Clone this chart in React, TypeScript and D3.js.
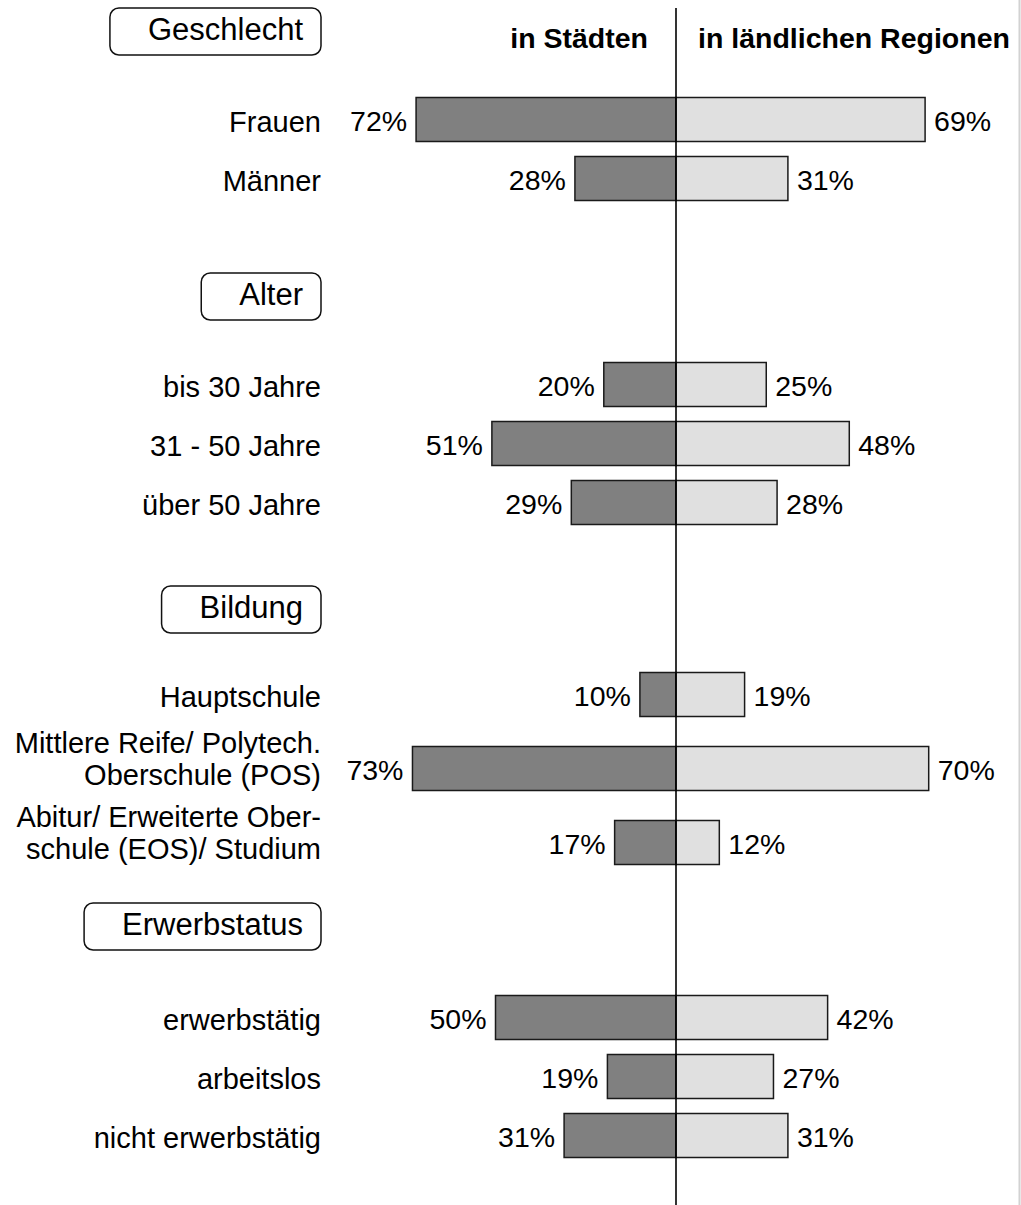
import React, { useEffect, useRef } from "react";
import * as d3 from "d3";

// ---------- data ----------
const groups = ["Geschlecht", "Alter", "Bildung", "Erwerbstatus"];
const categories = [
  "Frauen",
  "Männer",
  "bis 30 Jahre",
  "31 - 50 Jahre",
  "über 50 Jahre",
  "Hauptschule",
  "Mittlere Reife/ Polytech.\nOberschule (POS)",
  "Abitur/ Erweiterte Ober-\nschule (EOS)/ Studium",
  "erwerbstätig",
  "arbeitslos",
  "nicht erwerbstätig",
];
const categoryGroup = [0, 0, 1, 1, 1, 2, 2, 2, 3, 3, 3];
const seriesNames = ["in Städten", "in ländlichen Regionen"];
const staedte = [72, 28, 20, 51, 29, 10, 73, 17, 50, 19, 31];
const laendlich = [69, 31, 25, 48, 28, 19, 70, 12, 42, 27, 31];

// ---------- layout ----------
const W = 1021;
const H = 1205;
const CENTER_X = 676;
const HALF_WIDTH = 361; // pixels for 100 %
const BAR_H = 44;
const FIRST_HEADER_Y = 31.5;
const HEADER_TO_ROW = [88, 88, 85, 91];
const GAP_AFTER_GROUP = [118, 107, 84];
const ROW_STEP = 59;
const ROW_STEP_MULTI = 74;
const LABEL_X = 321;
const BOX_RIGHT = 321;
const FONT = "'Liberation Sans', Arial, Helvetica, sans-serif";

export default function App() {
  const ref = useRef<SVGSVGElement | null>(null);

  useEffect(() => {
    const svg = d3.select(ref.current);
    svg.selectAll("*").remove();

    const xLeft = d3.scaleLinear().domain([0, 100]).range([CENTER_X, CENTER_X - HALF_WIDTH]);
    const xRight = d3.scaleLinear().domain([0, 100]).range([CENTER_X, CENTER_X + HALF_WIDTH]);

    // compute vertical layout
    const headerY: number[] = [];
    const rowY: number[] = new Array(categories.length).fill(0);
    let cursor = FIRST_HEADER_Y;
    groups.forEach((g, gi) => {
      headerY.push(cursor);
      const idx = categoryGroup.map((c, i) => (c === gi ? i : -1)).filter((i) => i >= 0);
      const multi = idx.some((i) => categories[i].includes("\n"));
      const step = multi ? ROW_STEP_MULTI : ROW_STEP;
      let y = cursor + HEADER_TO_ROW[gi];
      idx.forEach((i, k) => {
        rowY[i] = y + k * step;
      });
      const last = rowY[idx[idx.length - 1]];
      if (gi < groups.length - 1) cursor = last + GAP_AFTER_GROUP[gi];
    });

    // right border line
    svg
      .append("line")
      .attr("x1", W - 1.5)
      .attr("x2", W - 1.5)
      .attr("y1", 0)
      .attr("y2", H)
      .attr("stroke", "#d2d2d2")
      .attr("stroke-width", 2);

    // column headers
    svg
      .append("text")
      .attr("x", CENTER_X - 28)
      .attr("y", 48)
      .attr("text-anchor", "end")
      .attr("font-family", FONT)
      .attr("font-weight", "bold")
      .attr("font-size", 28.5)
      .text(seriesNames[0]);
    svg
      .append("text")
      .attr("x", CENTER_X + 22)
      .attr("y", 48)
      .attr("text-anchor", "start")
      .attr("font-family", FONT)
      .attr("font-weight", "bold")
      .attr("font-size", 28.5)
      .text(seriesNames[1]);

    // group header boxes
    groups.forEach((g, gi) => {
      const cy = headerY[gi];
      const gEl = svg.append("g");
      const rect = gEl
        .append("rect")
        .attr("y", cy - 23.5)
        .attr("height", 47)
        .attr("rx", 9)
        .attr("ry", 9)
        .attr("fill", "#fff")
        .attr("stroke", "#111")
        .attr("stroke-width", 1.5);
      const t = gEl
        .append("text")
        .attr("x", BOX_RIGHT - 18)
        .attr("y", cy + 8.5)
        .attr("text-anchor", "end")
        .attr("font-family", FONT)
        .attr("font-size", 31)
        .text(g);
      const tw = (t.node() as SVGTextElement).getComputedTextLength();
      const left = BOX_RIGHT - 18 - tw - 38;
      rect.attr("x", left).attr("width", BOX_RIGHT - left);
    });

    // category labels
    categories.forEach((c, i) => {
      const lines = c.split("\n");
      const baseLast = rowY[i] + (lines.length > 1 ? 16 : 12);
      lines.forEach((ln, k) => {
        svg
          .append("text")
          .attr("x", LABEL_X)
          .attr("y", baseLast - (lines.length - 1 - k) * 32)
          .attr("text-anchor", "end")
          .attr("font-family", FONT)
          .attr("font-size", 29)
          .text(ln);
      });
    });

    // bars left
    svg
      .append("g")
      .selectAll("rect")
      .data(staedte)
      .join("rect")
      .attr("x", (d) => xLeft(d))
      .attr("y", (_d, i) => rowY[i] - BAR_H / 2)
      .attr("width", (d) => CENTER_X - xLeft(d))
      .attr("height", BAR_H)
      .attr("fill", "#808080")
      .attr("stroke", "#1a1a1a")
      .attr("stroke-width", 1.5);

    // bars right
    svg
      .append("g")
      .selectAll("rect")
      .data(laendlich)
      .join("rect")
      .attr("x", CENTER_X)
      .attr("y", (_d, i) => rowY[i] - BAR_H / 2)
      .attr("width", (d) => xRight(d) - CENTER_X)
      .attr("height", BAR_H)
      .attr("fill", "#e0e0e0")
      .attr("stroke", "#1a1a1a")
      .attr("stroke-width", 1.5);

    // value labels
    svg
      .append("g")
      .selectAll("text")
      .data(staedte)
      .join("text")
      .attr("x", (d) => xLeft(d) - 9)
      .attr("y", (_d, i) => rowY[i] + 11)
      .attr("text-anchor", "end")
      .attr("font-family", FONT)
      .attr("font-size", 28.5)
      .text((d) => `${d}%`);
    svg
      .append("g")
      .selectAll("text")
      .data(laendlich)
      .join("text")
      .attr("x", (d) => xRight(d) + 9)
      .attr("y", (_d, i) => rowY[i] + 11)
      .attr("text-anchor", "start")
      .attr("font-family", FONT)
      .attr("font-size", 28.5)
      .text((d) => `${d}%`);

    // center line
    svg
      .append("line")
      .attr("x1", CENTER_X)
      .attr("x2", CENTER_X)
      .attr("y1", 8)
      .attr("y2", H)
      .attr("stroke", "#000")
      .attr("stroke-width", 1.6);
  }, []);

  return (
    <svg
      ref={ref}
      width={W}
      height={H}
      style={{ position: "absolute", left: 0, top: 0, background: "#fff", display: "block" }}
    />
  );
}
